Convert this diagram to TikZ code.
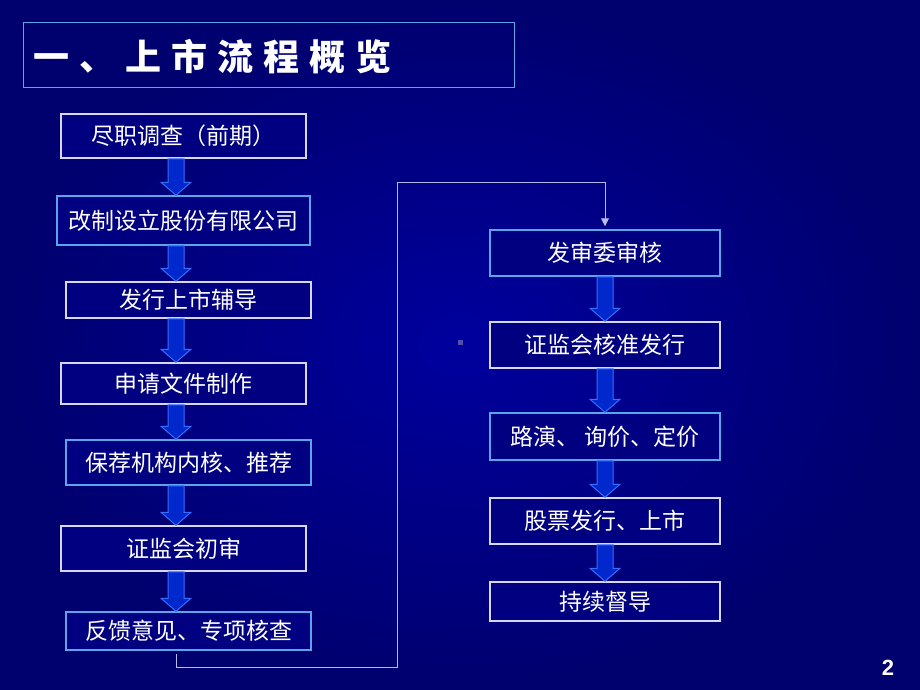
\documentclass[tikz,border=0pt]{standalone}
\usepackage{fontspec}
\usepackage{tikz}
\usetikzlibrary{calc,arrows.meta}
\newfontfamily\cjk{Noto Sans CJK SC}
\setmainfont{Liberation Sans}
\definecolor{bgin}{RGB}{0,0,158}
\definecolor{bgout}{RGB}{0,0,110}
\definecolor{boxfill}{RGB}{0,0,128}
\definecolor{wline}{RGB}{215,215,245}
\definecolor{bline}{RGB}{90,165,235}
\definecolor{arrfill}{RGB}{0,40,205}
\definecolor{arrline}{RGB}{55,110,255}
\definecolor{linkline}{RGB}{185,185,235}
\definecolor{speck}{RGB}{80,80,170}
\tikzset{>=stealth,
  flowbox/.style={fill=boxfill, line width=1.5pt, text=white, inner sep=0pt,
    font=\cjk\fontsize{23}{25}\selectfont},
  wbox/.style={flowbox, draw=wline},
  bbox/.style={flowbox, draw=bline},
  blkarrow/.style={fill=arrfill, draw=arrline, line width=1pt, line join=miter},
  link/.style={draw=linkline, line width=1pt}}
\newcommand{\flowarrow}[3]{%
  \path (#1.south -| #3) coordinate (fa-t) (#2.north -| #3) coordinate (fa-h);
  \filldraw[blkarrow] ($(fa-t)+(-8,0)$) -- ($(fa-h)+(-8,-13)$) -- ($(fa-h)+(-15,-13)$)
    -- (fa-h) -- ($(fa-h)+(15,-13)$) -- ($(fa-h)+(8,-13)$) -- ($(fa-t)+(8,0)$) -- cycle;}
\begin{document}
\begin{tikzpicture}[x=1pt, y=-1pt]
    \useasboundingbox (0,0) rectangle (920,690);
    \shade[inner color=bgin, outer color=bgout] (0,0) rectangle (920,690);
    % title
    \draw[bline, line width=1pt] (23,23) rectangle (514,88);
    \node[anchor=west, text=white, inner sep=0pt,
      font=\cjk\bfseries\fontsize{36}{40}\selectfont\addfontfeature{LetterSpace=28}]
      (title) at (33,57) {一、上市流程概览};
    \coordinate (lspine) at (176,0);
    \coordinate (rspine) at (605,0);
    % left column
    \node[wbox, minimum width=245pt, minimum height=44pt] (L1) at (183.5,136) {尽职调查（前期）};
    \node[bbox, minimum width=253pt, minimum height=49pt] (L2) at (183.5,220.5) {改制设立股份有限公司};
    \node[wbox, minimum width=245pt, minimum height=36pt] (L3) at (188.5,300) {发行上市辅导};
    \node[wbox, minimum width=245pt, minimum height=41pt] (L4) at (183.5,383.5) {申请文件制作};
    \node[bbox, minimum width=245pt, minimum height=45pt] (L5) at (188.5,462.5) {保荐机构内核、推荐};
    \node[wbox, minimum width=245pt, minimum height=45pt] (L6) at (183.5,548.5) {证监会初审};
    \node[bbox, minimum width=245pt, minimum height=38pt] (L7) at (188.5,631) {反馈意见、专项核查};
    % right column
    \node[bbox, minimum width=230pt, minimum height=46pt] (R1) at (605,253) {发审委审核};
    \node[wbox, minimum width=230pt, minimum height=46pt] (R2) at (605,345) {证监会核准发行};
    \node[bbox, minimum width=230pt, minimum height=47pt] (R3) at (605,436.5) {路演、 询价、定价};
    \node[wbox, minimum width=230pt, minimum height=46pt] (R4) at (605,521) {股票发行、上市};
    \node[wbox, minimum width=230pt, minimum height=39pt] (R5) at (605,601.5) {持续督导};
    \flowarrow{L1}{L2}{lspine}
    \flowarrow{L2}{L3}{lspine}
    \flowarrow{L3}{L4}{lspine}
    \flowarrow{L4}{L5}{lspine}
    \flowarrow{L5}{L6}{lspine}
    \flowarrow{L6}{L7}{lspine}
    \flowarrow{R1}{R2}{rspine}
    \flowarrow{R2}{R3}{rspine}
    \flowarrow{R3}{R4}{rspine}
    \flowarrow{R4}{R5}{rspine}
    % link between the columns
    \coordinate (c1) at (397,667);
    \coordinate (c2) at (397,182);
    \draw[link, -{Triangle[width=8pt,length=8pt]}, shorten <=3pt, shorten >=3pt]
      (L7.south -| lspine) |- (c1) -- (c2) -| (R1.north);
    \fill[speck] (458,340) rectangle (463,345);
    \node[text=white, font=\bfseries\fontsize{22}{24}\selectfont] (page) at (888,668) {2};
\end{tikzpicture}
\end{document}
